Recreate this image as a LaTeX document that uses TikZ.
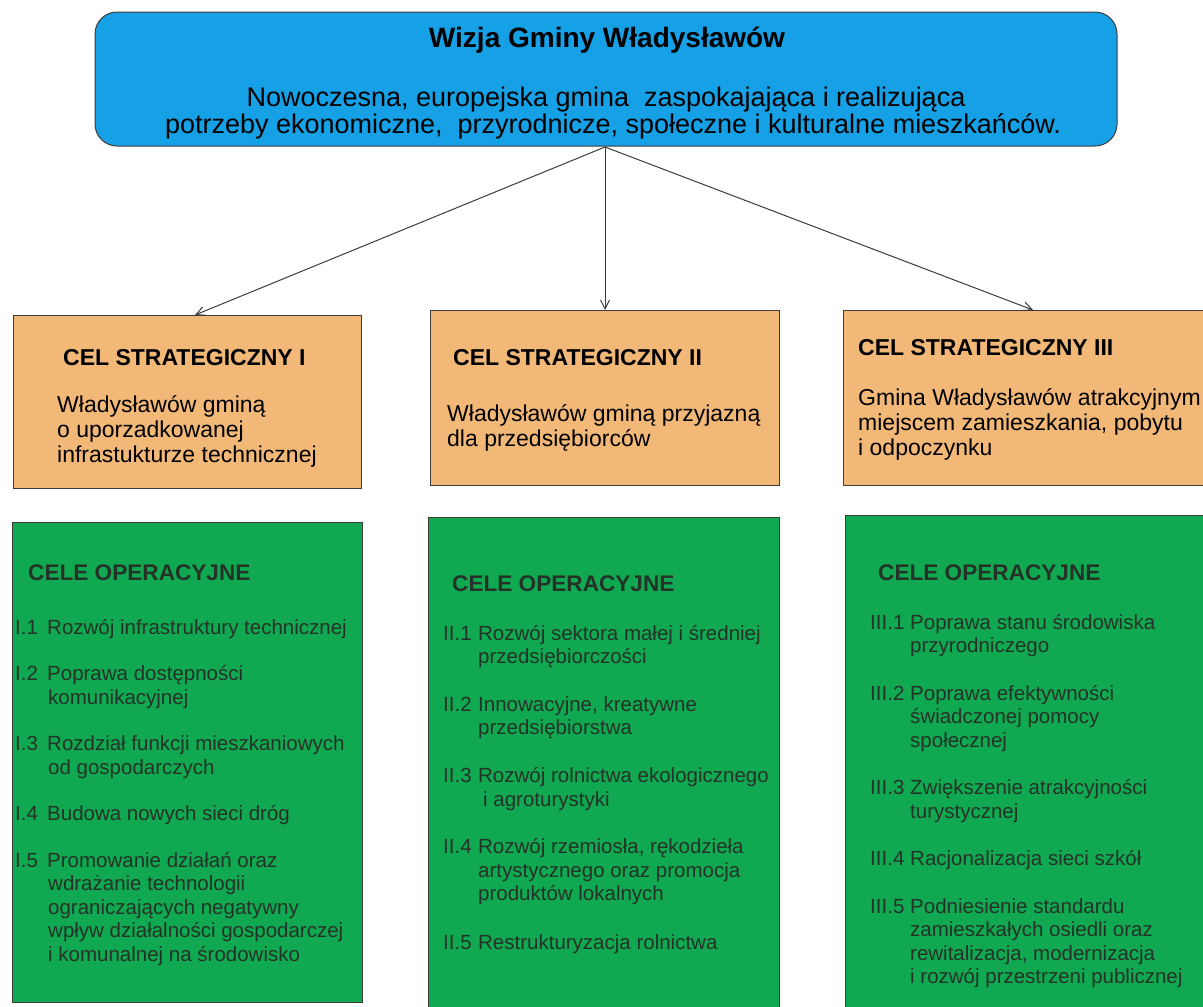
\documentclass[tikz,border=0pt]{standalone}
\usepackage{fontspec}
\setmainfont{Liberation Sans}
\usetikzlibrary{arrows.meta}

\definecolor{wizjablue}{RGB}{22,160,230}
\definecolor{celorange}{RGB}{242,184,120}
\definecolor{opgreen}{RGB}{16,168,80}
\definecolor{optext}{RGB}{36,50,40}
\definecolor{ramka}{RGB}{60,60,60}

% punkt celu operacyjnego z wcieciem
\newcommand{\celop}[3]{\begin{tabular}[t]{@{}p{#1}@{}l@{}}#2 & #3\end{tabular}}
\newcommand{\linie}[1]{\begin{tabular}[t]{@{}l@{}}#1\end{tabular}}

\begin{document}
\begin{tikzpicture}[x=1pt,y=-1pt]
    \tikzstyle{every node}=[inner sep=0pt,anchor=base west]
    \tikzstyle{ramka}=[draw=ramka,line width=1pt]
    \tikzstyle{wizjatytul}=[font=\fontsize{28}{32}\selectfont\bfseries,anchor=base]
    \tikzstyle{wizjatekst}=[font=\fontsize{27}{27}\selectfont,anchor=base]
    \tikzstyle{celtytul}=[font=\fontsize{23}{26}\selectfont\bfseries]
    \tikzstyle{celtekst}=[font=\fontsize{23}{25}\selectfont]
    \tikzstyle{optytul}=[font=\fontsize{22.6}{26}\selectfont\bfseries,text=optext]
    \tikzstyle{optekst}=[font=\fontsize{20.5}{23.5}\selectfont,text=optext]
    \tikzstyle{strzalka}=[draw=ramka,line width=1pt,-{Straight Barb[length=9pt,width=9pt]}]

    \useasboundingbox (0,0) rectangle (1203,1007);
    \clip (0,0) rectangle (1203,1007);

    % wizja
    \draw[ramka,fill=wizjablue,rounded corners=22](95,12) rectangle (1117,146);
    \node[wizjatytul] (wizja) at (607,47) {Wizja Gminy Władysławów};
    \node[wizjatekst] (wizja1) at (606,106)
        {Nowoczesna, europejska gmina\ \ zaspokajająca i realizująca};
    \node[wizjatekst] (wizja2) at (613,133)
        {potrzeby ekonomiczne,\ \ przyrodnicze, społeczne i kulturalne mieszkańców.};

    % cele strategiczne
    \draw[ramka,fill=celorange](13,315) rectangle (361,488);
    \draw[ramka,fill=celorange](430,310) rectangle (779,485);
    \draw[ramka,fill=celorange](843,310) rectangle (1215,485);

    \node[celtytul] (cs1) at (63,365) {CEL STRATEGICZNY I};
    \node[celtekst] (cs1t) at (57,412)
        {\linie{Władysławów gminą\\o uporzadkowanej\\infrastukturze technicznej}};

    \node[celtytul] (cs2) at (453,365) {CEL STRATEGICZNY II};
    \node[celtekst] (cs2t) at (447,421)
        {\linie{Władysławów gminą przyjazną\\dla przedsiębiorców}};

    \node[celtytul] (cs3) at (858,355) {CEL STRATEGICZNY III};
    \node[celtekst] (cs3t) at (858,405)
        {\linie{Gmina Władysławów atrakcyjnym\\miejscem zamieszkania, pobytu\\i odpoczynku}};

    % strzalki
    \coordinate (zrodlo) at (605,147);
    \coordinate (cel1) at (195,315);
    \coordinate (cel2) at (605,310);
    \coordinate (cel3) at (1033,310);
    \draw[strzalka] (zrodlo) -- (cel1);
    \draw[strzalka] (zrodlo) -- (cel2);
    \draw[strzalka] (zrodlo) -- (cel3);

    % cele operacyjne
    \draw[ramka,fill=opgreen](12,522) rectangle (362,1002);
    \draw[ramka,fill=opgreen](428,517) rectangle (779,1015);
    \draw[ramka,fill=opgreen](845,515) rectangle (1215,1015);

    % I
    \node[optytul] (co1) at (28,580) {CELE OPERACYJNE};
    \node[optekst] (op11) at (15,634) {\celop{32pt}{I.1}{Rozwój infrastruktury technicznej}};
    \node[optekst] (op12) at (15,680.6) {\celop{32pt}{I.2}{Poprawa dostępności\\ & \hspace*{1pt}komunikacyjnej}};
    \node[optekst] (op13) at (15,750.5) {\celop{32pt}{I.3}{Rozdział funkcji mieszkaniowych\\ & \hspace*{1pt}od gospodarczych}};
    \node[optekst] (op14) at (15,820.4) {\celop{32pt}{I.4}{Budowa nowych sieci dróg}};
    \node[optekst] (op15) at (15,867) {\celop{32pt}{I.5}{Promowanie działań oraz\\ & \hspace*{1pt}wdrażanie technologii\\
        & \hspace*{1pt}ograniczających negatywny\\ & \hspace*{1pt}wpływ działalności gospodarczej\\ & \hspace*{1pt}i komunalnej na środowisko}};

    % II
    \node[optytul] (co2) at (452,591) {CELE OPERACYJNE};
    \node[optekst] (op21) at (443,640) {\celop{35pt}{II.1}{Rozwój sektora małej i średniej\\ & przedsiębiorczości}};
    \node[optekst] (op22) at (443,711.3) {\celop{35pt}{II.2}{Innowacyjne, kreatywne\\ & przedsiębiorstwa}};
    \node[optekst] (op23) at (443,782.6) {\celop{35pt}{II.3}{Rozwój rolnictwa ekologicznego\\ & \hspace*{5pt}i agroturystyki}};
    \node[optekst] (op24) at (443,853.9) {\celop{35pt}{II.4}{Rozwój rzemiosła, rękodzieła\\ & artystycznego oraz promocja\\
        & produktów lokalnych}};
    \node[optekst] (op25) at (443,949) {\celop{35pt}{II.5}{Restrukturyzacja rolnictwa}};

    % III
    \node[optytul] (co3) at (878,580) {CELE OPERACYJNE};
    \node[optekst] (op31) at (870,629) {\celop{40pt}{III.1}{Poprawa stanu środowiska\\ & przyrodniczego}};
    \node[optekst] (op32) at (870,700) {\celop{40pt}{III.2}{Poprawa efektywności\\ & świadczonej pomocy\\ & społecznej}};
    \node[optekst] (op33) at (870,794.7) {\celop{40pt}{III.3}{Zwiększenie atrakcyjności\\ & turystycznej}};
    \node[optekst] (op34) at (870,865.7) {\celop{40pt}{III.4}{Racjonalizacja sieci szkół}};
    \node[optekst] (op35) at (870,913) {\celop{40pt}{III.5}{Podniesienie standardu\\ & zamieszkałych osiedli oraz\\
        & rewitalizacja, modernizacja\\ & i rozwój przestrzeni publicznej}};
\end{tikzpicture}
\end{document}
